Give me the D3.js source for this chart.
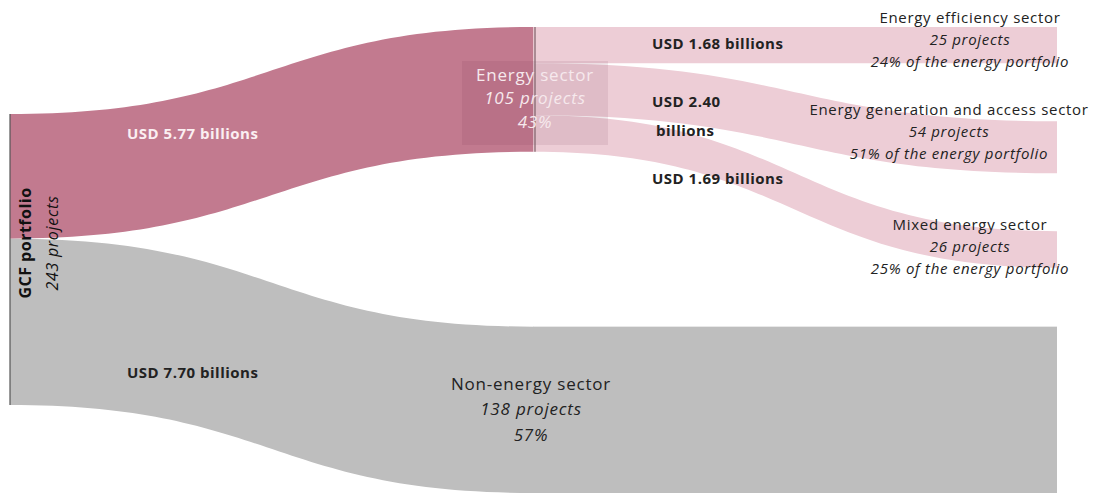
<!DOCTYPE html>
<html>
<head>
<meta charset="utf-8">
<script src="https://d3js.org/d3.v7.min.js"></script>
<style>
  html, body { margin: 0; padding: 0; background: #fff; }
  svg { display: block; font-family: "Open Sans", Lato, sans-serif; }
</style>
</head>
<body>
<svg id="gcf-sankey" width="1096" height="494"></svg>
<script>
// portfolio split (USD billions)
var sectors = ["Energy sector", "Non-energy sector"];
var sectorValues = [5.77, 7.70];
var sectorProjects = [105, 138];
var sectorShares = [43, 57];

// energy sub-sectors (USD billions)
var subSectors = ["Energy efficiency sector", "Energy generation and access sector", "Mixed energy sector"];
var subValues = [1.68, 2.40, 1.69];
var subProjects = [25, 54, 26];
var subShares = [24, 51, 25];

var totalProjects = 243;

var svg = d3.select("#gcf-sankey");

var total = d3.sum(sectorValues);
var h = d3.scaleLinear().domain([0, total]).range([0, 291]);
var col = d3.scaleLinear().domain([0, 2]).range([10, 1057]);

var pink = "#c27a8f", lightPink = "#edcdd6", grey = "#bebebe";

// node tops per column
var srcTop = 114;
var colTop = [27, 27];
var pad1 = 175, pad2 = 58;

var band = function(x0, y0, x1, y1, w) {
  var xm = (x0 + x1) / 2;
  return "M" + x0 + "," + y0 +
    "C" + xm + "," + y0 + " " + xm + "," + y1 + " " + x1 + "," + y1 +
    "L" + x1 + "," + (y1 + w) +
    "C" + xm + "," + (y1 + w) + " " + xm + "," + (y0 + w) + " " + x0 + "," + (y0 + w) + "Z";
};

// column 1 nodes
var mid = [];
var y = colTop[0], ys = srcTop;
sectorValues.forEach(function(v, i) {
  mid.push({ name: sectors[i], value: v, y0: y, y1: y + h(v), s0: ys });
  ys += h(v);
  y += h(v) + pad1;
});

// column 2 nodes (energy split)
var leaves = [];
y = colTop[1];
var ey = mid[0].y0;
subValues.forEach(function(v, i) {
  leaves.push({ name: subSectors[i], value: v, y0: y, y1: y + h(v), s0: ey });
  ey += h(v);
  y += h(v) + pad2;
});

// links level 1
svg.append("g").selectAll("path")
  .data(mid)
  .join("path")
    .attr("d", function(d) { return band(col(0), d.s0, col(1), d.y0, h(d.value)); })
    .attr("fill", function(d, i) { return i === 0 ? pink : grey; });

// non-energy continues flat
svg.append("rect")
  .attr("x", col(1) - 0.5)
  .attr("y", mid[1].y0)
  .attr("width", col(2) - col(1) + 0.5)
  .attr("height", h(mid[1].value))
  .attr("fill", grey);

// links level 2
svg.append("g").selectAll("path")
  .data(leaves)
  .join("path")
    .attr("d", function(d) { return band(col(1), d.s0, col(2), d.y0, h(d.value)); })
    .attr("fill", lightPink);

// energy label box
var cx = col(1) + 1.5;
svg.append("rect")
  .attr("x", cx - 73).attr("y", 61)
  .attr("width", 146).attr("height", 84)
  .attr("fill", "#6e2a42").attr("opacity", 0.1);

// node bars
svg.append("line")
  .attr("x1", col(0)).attr("x2", col(0))
  .attr("y1", srcTop).attr("y2", srcTop + h(total))
  .attr("stroke", "#555").attr("stroke-width", 1.2);
svg.append("line")
  .attr("x1", cx).attr("x2", cx)
  .attr("y1", mid[0].y0).attr("y2", mid[0].y1)
  .attr("stroke", "#7d6068").attr("stroke-width", 1.2);

// text helpers
var lines = function(x, y0, step, items, color, size, ls) {
  var t = svg.append("text")
    .attr("text-anchor", "middle")
    .attr("fill", color)
    .style("font-size", size + "px")
    .style("letter-spacing", ls + "px");
  items.forEach(function(it, i) {
    t.append("tspan")
      .attr("x", x)
      .attr("y", y0 + i * step)
      .attr("dominant-baseline", "central")
      .style("font-style", it[1] ? "italic" : "normal")
      .text(it[0]);
  });
};

// source label
var src = svg.append("g").attr("transform", "translate(25,243) rotate(-90)");
src.append("text")
  .attr("text-anchor", "middle").attr("dominant-baseline", "central")
  .style("font-size", "16px").style("font-weight", "bold").style("letter-spacing", "0.5px")
  .attr("fill", "#111")
  .text("GCF portfolio");
src.append("text")
  .attr("y", 27)
  .attr("text-anchor", "middle").attr("dominant-baseline", "central")
  .style("font-size", "16px").style("font-style", "italic").style("letter-spacing", "0.7px")
  .attr("fill", "#111")
  .text(totalProjects + " projects");

// sector labels
lines(cx, 74, 23.5, [[sectors[0], 0], [sectorProjects[0] + " projects", 1], [sectorShares[0] + "%", 1]], "#f6e9ed", 17, 0.8);
lines(531, 383, 25.5, [[sectors[1], 0], [sectorProjects[1] + " projects", 1], [sectorShares[1] + "%", 1]], "#222", 17, 0.8);

// sub-sector labels
var subX = [970, 949, 970], subDy = [-10, -12, -7];
leaves.forEach(function(d, i) {
  lines(subX[i], d.y0 + subDy[i], 22, [[d.name, 0], [subProjects[i] + " projects", 1], [subShares[i] + "% of the energy portfolio", 1]], "#222", 15, 0.7);
});

// value labels
var fmt = d3.format(".2f");
var valLabel = function(x, y, txt, color) {
  svg.append("text")
    .attr("x", x).attr("y", y)
    .attr("dominant-baseline", "central")
    .style("font-size", "15px").style("font-weight", "bold").style("letter-spacing", "0.5px")
    .attr("fill", color)
    .text(txt);
};
valLabel(127, 133, "USD " + fmt(sectorValues[0]) + " billions", "#fbeff2");
valLabel(127, 372, "USD " + fmt(sectorValues[1]) + " billions", "#222");
valLabel(652, 43, "USD " + fmt(subValues[0]) + " billions", "#222");
valLabel(652, 101, "USD " + fmt(subValues[1]), "#222");
valLabel(656, 130, "billions", "#222");
valLabel(652, 178, "USD " + fmt(subValues[2]) + " billions", "#222");
</script>
</body>
</html>
